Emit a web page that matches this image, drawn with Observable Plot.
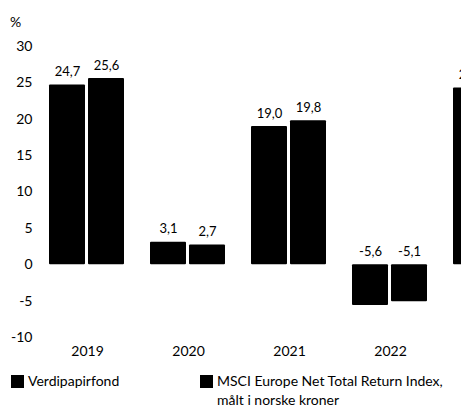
<!DOCTYPE html>
<html>
<head>
<meta charset="utf-8">
<script src="https://cdn.jsdelivr.net/npm/d3@7"></script>
<script src="https://cdn.jsdelivr.net/npm/@observablehq/plot@0.6"></script>
<style>
  html, body { margin: 0; padding: 0; background: #fff; overflow: hidden; }
  body { width: 461px; height: 405px; position: relative; font-family: Lato, "Noto Sans", sans-serif; color: #000; }
  #unit { position: absolute; left: 10px; top: 13px; font-size: 14px; z-index: 2; }
  #chart { position: absolute; left: 0; top: 0; width: 461px; height: 360px; overflow: hidden; z-index: 1; }
  #chart svg { max-width: none !important; }
  #legend { position: absolute; left: 11px; top: 371px; font-size: 14px; line-height: 19px; width: 470px; }
  .item { position: absolute; top: 0; white-space: nowrap; }
  .sw { display: inline-block; width: 13px; height: 13px; background: #000; vertical-align: top; margin-top: 4px; margin-right: 4px; }
  .txt { display: inline-block; vertical-align: top; }
</style>
</head>
<body>
<div id="chart"></div>
<div id="unit">%</div>
<div id="legend">
  <div class="item" style="left:0px"><span class="sw"></span><span class="txt">Verdipapirfond</span></div>
  <div class="item" style="left:189px"><span class="sw"></span><span class="txt">MSCI Europe Net Total Return Index,<br>målt i norske kroner</span></div>
</div>
<script>
const years = ["2019", "2020", "2021", "2022", "2023"];
const seriesNames = ["Verdipapirfond", "MSCI Europe Net Total Return Index, målt i norske kroner"];
const fundValues = [24.7, 3.1, 19.0, -5.6, 24.3];
const indexValues = [25.6, 2.7, 19.8, -5.1, null];
const yTicks = [-10, -5, 0, 5, 10, 15, 20, 25, 30];

const data = [];
years.forEach((y, i) => {
  if (fundValues[i] != null) data.push({year: y, series: seriesNames[0], value: fundValues[i]});
  if (indexValues[i] != null) data.push({year: y, series: seriesNames[1], value: indexValues[i]});
});

const fmt = v => v.toFixed(1).replace(".", ",");

const chart = Plot.plot({
  width: 532,
  height: 360,
  marginLeft: 47,
  marginRight: 0,
  marginTop: 46,
  marginBottom: 23,
  style: {fontFamily: "Lato, 'Noto Sans', sans-serif", fontSize: "14px", color: "#000", background: "#fff", overflow: "visible", maxWidth: "none"},
  fx: {domain: years, paddingInner: 0.245, paddingOuter: 0, label: null},
  x: {domain: seriesNames, paddingInner: 0.075, paddingOuter: 0, axis: null},
  y: {domain: [-10, 30], label: null},
  marks: [
    Plot.axisY({ticks: yTicks, tickSize: 0, tickPadding: 17, tickFormat: d => String(d), label: null, fontSize: 14}),
    Plot.axisFx({anchor: "bottom", tickSize: 0, tickPadding: 9, label: null, fontSize: 14}),
    Plot.barY(data, {fx: "year", x: "series", y: "value", fill: "#000", rx: 1}),
    Plot.text(data, {fx: "year", x: "series", y: d => Math.max(d.value, 0), text: d => fmt(d.value), dy: -9, lineAnchor: "bottom", fontSize: 13, fill: "#000"})
  ]
});
document.getElementById("chart").appendChild(chart);
</script>
</body>
</html>
